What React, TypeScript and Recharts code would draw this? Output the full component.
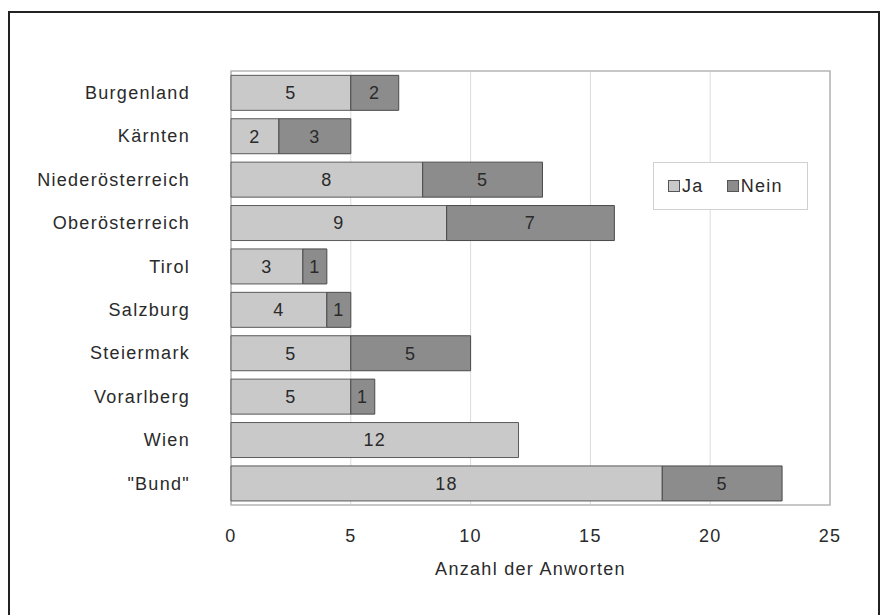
import {
  Bar,
  BarChart,
  CartesianGrid,
  LabelList,
  Label,
  ReferenceArea,
  XAxis,
  YAxis,
} from "recharts";

const regions = [
  "Burgenland",
  "Kärnten",
  "Niederösterreich",
  "Oberösterreich",
  "Tirol",
  "Salzburg",
  "Steiermark",
  "Vorarlberg",
  "Wien",
  '"Bund"',
];
const ja = [5, 2, 8, 9, 3, 4, 5, 5, 12, 18];
const nein: (number | null)[] = [2, 3, 5, 7, 1, 1, 5, 1, null, 5];
const xTicks = [0, 5, 10, 15, 20, 25];
const seriesNames = ["Ja", "Nein"];

const JA_FILL = "#c9c9c9";
const NEIN_FILL = "#8c8c8c";
const FONT = "'Liberation Sans', Arial, sans-serif";
const TEXT = { fill: "#2a2a2a", fontSize: 18, fontFamily: FONT, letterSpacing: 1.3 };

const data = regions.map((name, i) => ({ name, ja: ja[i], nein: nein[i] }));

/** Boxed key sitting over the plot, like the old spreadsheet-style legend. */
function KeyBox() {
  const item = (label: string, fill: string, gap: number) => (
    <span style={{ display: "inline-flex", alignItems: "center", marginRight: gap }}>
      <span
        style={{
          width: 10,
          height: 10,
          background: fill,
          border: "1px solid #555",
          marginRight: 2,
        }}
      />
      {label}
    </span>
  );
  return (
    <div
      style={{
        position: "absolute",
        left: 653,
        top: 162,
        width: 155,
        height: 48,
        boxSizing: "border-box",
        border: "1px solid #d0d0d0",
        background: "#fff",
        display: "flex",
        alignItems: "center",
        paddingLeft: 14,
        fontFamily: FONT,
        fontSize: 18,
        letterSpacing: 1.3,
        color: "#2a2a2a",
      }}
    >
      {item(seriesNames[0], JA_FILL, 23)}
      {item(seriesNames[1], NEIN_FILL, 0)}
    </div>
  );
}

const hideEmpty = (v: any) => (v == null || v === 0 ? "" : v);

export default function App() {
  return (
    <div
      style={{
        position: "absolute",
        left: 0,
        top: 0,
        width: 885,
        height: 615,
        overflow: "hidden",
        background: "#fff",
        fontFamily: FONT,
      }}
    >
      <div
        style={{
          position: "absolute",
          left: 8,
          top: 11,
          width: 872,
          height: 640,
          border: "2px solid #222",
          boxSizing: "border-box",
        }}
      />
      <div style={{ position: "absolute", left: 0, top: 0 }}>
        <BarChart
          width={885}
          height={615}
          data={data}
          layout="vertical"
          margin={{ top: 71, right: 55, left: 0, bottom: 30 }}
          barCategoryGap="10%"
        >
          <CartesianGrid horizontal={false} stroke="#dcdcdc" />
          <XAxis
            type="number"
            domain={[0, 25]}
            ticks={xTicks}
            height={80}
            tickSize={0}
            tickMargin={24}
            axisLine={false}
            tick={TEXT}
          >
            <Label
              value="Anzahl der Anworten"
              position="insideBottom"
              offset={10}
              style={TEXT}
            />
          </XAxis>
          <YAxis
            type="category"
            dataKey="name"
            width={231}
            tickSize={0}
            tickMargin={41}
            axisLine={false}
            interval={0}
            tick={TEXT}
          />
          <ReferenceArea x1={0} x2={25} fill="none" stroke="#b5b5b5" strokeWidth={1.5} />
          <Bar dataKey="ja" stackId="a" fill={JA_FILL} stroke="#5a5a5a" isAnimationActive={false}>
            <LabelList dataKey="ja" position="center" style={TEXT} fill="#222" />
          </Bar>
          <Bar dataKey="nein" stackId="a" fill={NEIN_FILL} stroke="#4a4a4a" isAnimationActive={false}>
            <LabelList
              dataKey="nein"
              position="center"
              style={TEXT}
              fill="#222"
              formatter={hideEmpty}
            />
          </Bar>
        </BarChart>
      </div>
      <KeyBox />
    </div>
  );
}
